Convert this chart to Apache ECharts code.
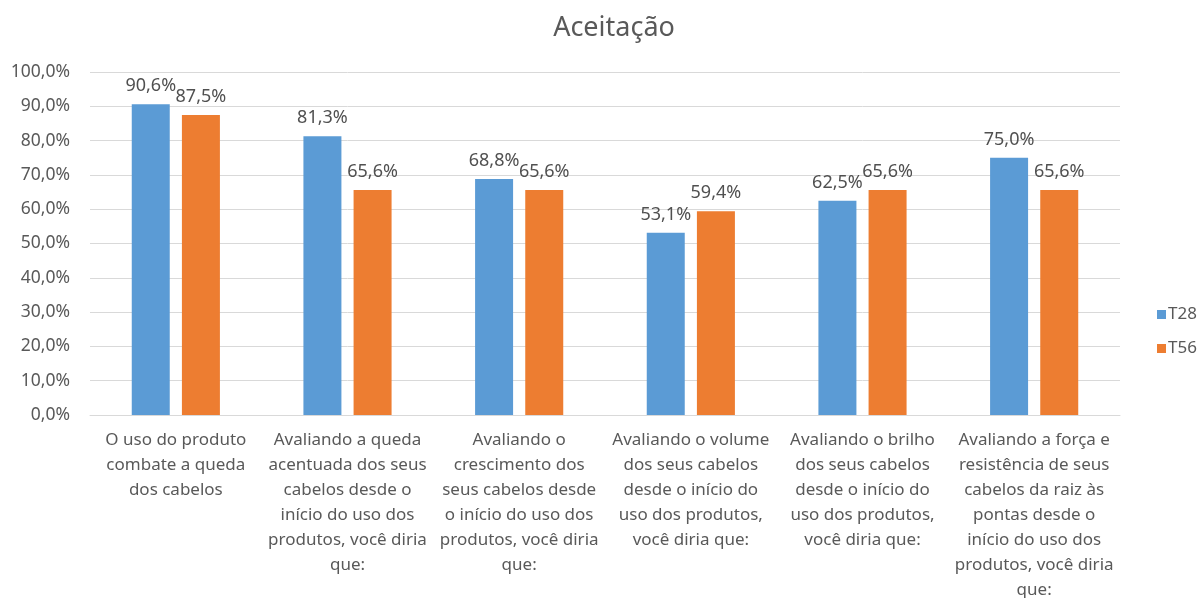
<!DOCTYPE html>
<html>
<head>
<meta charset="utf-8">
<script src="https://cdn.jsdelivr.net/npm/echarts@6/dist/echarts.min.js"></script>
<style>
  html, body { margin: 0; padding: 0; background: #fff; }
  #chart { width: 1204px; height: 598px; }
</style>
</head>
<body>
<div id="chart"></div>
<script>
// categorias (quebra de linha igual ao original)
const categories = [
  'O uso do produto\ncombate a queda\ndos cabelos',
  'Avaliando a queda\nacentuada dos seus\ncabelos desde o\ninício do uso dos\nprodutos, você diria\nque:',
  'Avaliando o\ncrescimento dos\nseus cabelos desde\no início do uso dos\nprodutos, você diria\nque:',
  'Avaliando o volume\ndos seus cabelos\ndesde o início do\nuso dos produtos,\nvocê diria que:',
  'Avaliando o brilho\ndos seus cabelos\ndesde o início do\nuso dos produtos,\nvocê diria que:',
  'Avaliando a força e\nresistência de seus\ncabelos da raiz às\npontas desde o\ninício do uso dos\nprodutos, você diria\nque:'
];
const seriesNames = ['T28', 'T56'];
const t28 = [90.6, 81.3, 68.8, 53.1, 62.5, 75.0];
const t56 = [87.5, 65.6, 65.6, 59.4, 65.6, 65.6];

const fmt = v => v.toFixed(1).replace('.', ',') + '%';
const font = 'Noto Sans';

const chart = echarts.init(document.getElementById('chart'));
chart.setOption({
  animation: false,
  textStyle: { fontFamily: font },
  title: {
    text: 'Aceitação',
    left: 609,
    textAlign: 'center',
    top: 10,
    textStyle: { fontFamily: font, fontSize: 27, fontWeight: 'normal', color: '#595959' }
  },
  legend: {
    orient: 'vertical',
    left: 1152,
    top: 301,
    itemWidth: 9,
    itemHeight: 9,
    itemGap: 17,
    icon: 'rect',
    textStyle: { fontFamily: font, fontSize: 17, color: '#595959', padding: [0, 0, 0, -3] },
    data: seriesNames
  },
  grid: { left: 90, right: 84, top: 72, bottom: 183, containLabel: false, outerBoundsMode: 'none' },
  xAxis: {
    type: 'category',
    data: categories,
    axisTick: { show: false },
    axisLine: { lineStyle: { color: '#d9d9d9' } },
    axisLabel: {
      interval: 0,
      margin: 13,
      fontFamily: font,
      fontSize: 17,
      lineHeight: 25,
      color: '#595959',
      align: 'center'
    }
  },
  yAxis: {
    type: 'value',
    min: 0,
    max: 100,
    interval: 10,
    axisLine: { show: false },
    axisTick: { show: false },
    splitLine: { lineStyle: { color: '#d9d9d9' } },
    axisLabel: {
      formatter: v => v.toFixed(1).replace('.', ',') + '%',
      fontFamily: font,
      fontSize: 17.5,
      color: '#595959',
      margin: 20
    }
  },
  series: [
    {
      name: seriesNames[0],
      type: 'bar',
      data: t28,
      barWidth: 38,
      barGap: '32%',
      itemStyle: { color: '#5b9bd5' },
      label: { show: true, position: 'top', formatter: p => fmt(p.value), fontFamily: font, fontSize: 18, color: '#505050', distance: 9 }
    },
    {
      name: seriesNames[1],
      type: 'bar',
      data: t56,
      barWidth: 38,
      itemStyle: { color: '#ed7d31' },
      label: { show: true, position: 'top', formatter: p => fmt(p.value), fontFamily: font, fontSize: 18, color: '#505050', distance: 9 }
    }
  ]
});
</script>
</body>
</html>
